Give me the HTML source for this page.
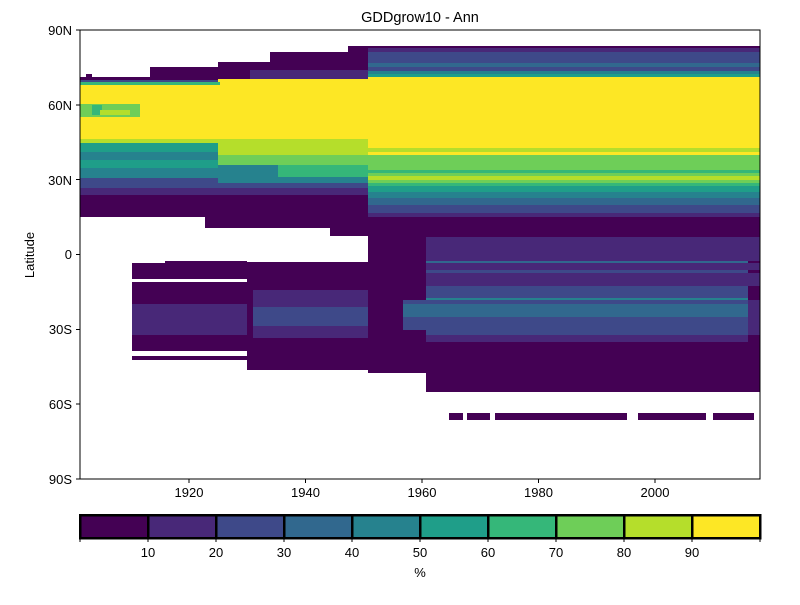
<!DOCTYPE html>
<html><head><meta charset="utf-8"><style>
body{margin:0;background:#fff;}
svg text{font-family:"Liberation Sans","DejaVu Sans",sans-serif;font-size:13px;fill:#000;}
</style></head><body>
<svg width="800" height="600" viewBox="0 0 800 600" xmlns="http://www.w3.org/2000/svg" shape-rendering="crispEdges">
<defs>
<clipPath id="c"><rect x="80" y="30" width="680" height="449"/></clipPath>
</defs>
<g clip-path="url(#c)">
<rect x="80" y="77" width="70" height="5" fill="#440154"/>
<rect x="86" y="74" width="6" height="4" fill="#440154"/>
<rect x="150" y="67" width="68" height="15" fill="#440154"/>
<rect x="218" y="62" width="52" height="20" fill="#440154"/>
<rect x="270" y="52" width="78" height="30" fill="#440154"/>
<rect x="348" y="46" width="20" height="36" fill="#440154"/>
<rect x="250" y="70" width="118" height="10" fill="#482878"/>
<rect x="80" y="80" width="150" height="4" fill="#3e4989"/>
<rect x="80" y="82" width="288" height="70" fill="#fde725"/>
<rect x="218" y="79" width="150" height="4" fill="#fde725"/>
<rect x="80" y="82" width="140" height="3" fill="#35b779"/>
<rect x="80" y="104" width="60" height="13" fill="#6ece58"/>
<rect x="92" y="105" width="10" height="10" fill="#35b779"/>
<rect x="100" y="110" width="30" height="5" fill="#b5de2b"/>
<rect x="80" y="139" width="300" height="13" fill="#b5de2b"/>
<rect x="80" y="143" width="138" height="10" fill="#1f9e89"/>
<rect x="80" y="152" width="138" height="26" fill="#26828e"/>
<rect x="80" y="160" width="138" height="8" fill="#1f9e89"/>
<rect x="218" y="152" width="150" height="3" fill="#b5de2b"/>
<rect x="218" y="155" width="150" height="10" fill="#6ece58"/>
<rect x="218" y="165" width="150" height="12" fill="#35b779"/>
<rect x="218" y="165" width="60" height="12" fill="#26828e"/>
<rect x="80" y="178" width="288" height="10" fill="#3e4989"/>
<rect x="218" y="177" width="150" height="6" fill="#26828e"/>
<rect x="80" y="188" width="288" height="8" fill="#482878"/>
<rect x="80" y="195" width="288" height="22" fill="#440154"/>
<rect x="205" y="217" width="163" height="11" fill="#440154"/>
<rect x="330" y="228" width="38" height="8" fill="#440154"/>
<rect x="368" y="46" width="392" height="3" fill="#440154"/>
<rect x="368" y="48" width="392" height="5" fill="#482878"/>
<rect x="368" y="52" width="392" height="11" fill="#3e4989"/>
<rect x="368" y="63" width="392" height="4" fill="#31688e"/>
<rect x="368" y="67" width="392" height="4" fill="#3e4989"/>
<rect x="368" y="71" width="392" height="3" fill="#26828e"/>
<rect x="368" y="74" width="392" height="3" fill="#1f9e89"/>
<rect x="368" y="77" width="392" height="71" fill="#fde725"/>
<rect x="368" y="148" width="392" height="4" fill="#b5de2b"/>
<rect x="368" y="152" width="392" height="3" fill="#fde725"/>
<rect x="368" y="155" width="392" height="15" fill="#6ece58"/>
<rect x="368" y="170" width="392" height="3" fill="#35b779"/>
<rect x="368" y="173" width="392" height="3" fill="#6ece58"/>
<rect x="368" y="176" width="392" height="4" fill="#b5de2b"/>
<rect x="368" y="180" width="392" height="3" fill="#6ece58"/>
<rect x="368" y="183" width="392" height="3" fill="#35b779"/>
<rect x="368" y="186" width="392" height="6" fill="#1f9e89"/>
<rect x="368" y="192" width="392" height="6" fill="#26828e"/>
<rect x="368" y="198" width="392" height="7" fill="#31688e"/>
<rect x="368" y="205" width="392" height="9" fill="#3e4989"/>
<rect x="368" y="213" width="392" height="4" fill="#482878"/>
<rect x="368" y="217" width="392" height="16" fill="#440154"/>
<!-- middle column dark base -->
<rect x="368" y="230" width="58" height="143" fill="#440154"/>
<rect x="426" y="230" width="334" height="162" fill="#440154"/>
<!-- tropics right -->
<rect x="426" y="237" width="334" height="24" fill="#482878"/>
<rect x="426" y="261" width="322" height="2" fill="#31688e"/>
<rect x="426" y="263" width="334" height="7" fill="#482878"/>
<rect x="426" y="270" width="322" height="3" fill="#3e4989"/>
<rect x="426" y="273" width="334" height="13" fill="#482878"/>
<rect x="426" y="286" width="322" height="12" fill="#3e4989"/>
<rect x="426" y="298" width="322" height="2" fill="#26828e"/>
<rect x="426" y="300" width="322" height="4" fill="#3e4989"/>
<rect x="426" y="304" width="322" height="13" fill="#31688e"/>
<rect x="426" y="317" width="322" height="18" fill="#3e4989"/>
<rect x="426" y="335" width="322" height="7" fill="#482878"/>
<rect x="748" y="300" width="12" height="35" fill="#482878"/>
<rect x="403" y="300" width="23" height="30" fill="#3e4989"/>
<rect x="403" y="304" width="23" height="13" fill="#31688e"/>
<rect x="247" y="262" width="121" height="28" fill="#440154"/>
<rect x="253" y="290" width="115" height="17" fill="#482878"/>
<rect x="253" y="307" width="115" height="19" fill="#3e4989"/>
<rect x="253" y="326" width="115" height="12" fill="#482878"/>
<rect x="247" y="338" width="121" height="32" fill="#440154"/>
<rect x="247" y="290" width="6" height="48" fill="#440154"/>
<rect x="132" y="263" width="115" height="16" fill="#440154"/>
<rect x="165" y="261" width="82" height="3" fill="#440154"/>
<rect x="132" y="282" width="115" height="22" fill="#440154"/>
<rect x="132" y="304" width="115" height="31" fill="#482878"/>
<rect x="132" y="335" width="115" height="16" fill="#440154"/>
<rect x="132" y="356" width="115" height="4" fill="#440154"/>
<rect x="449" y="413" width="14" height="7" fill="#440154"/>
<rect x="467" y="413" width="23" height="7" fill="#440154"/>
<rect x="495" y="413" width="132" height="7" fill="#440154"/>
<rect x="638" y="413" width="68" height="7" fill="#440154"/>
<rect x="713" y="413" width="41" height="7" fill="#440154"/>
</g>
<rect x="80" y="30" width="680" height="449" fill="none" stroke="#000" stroke-width="1" shape-rendering="auto"/>
<g stroke="#000" stroke-width="1">
<line x1="76" y1="30" x2="80" y2="30"/><line x1="76" y1="104.8" x2="80" y2="104.8"/><line x1="76" y1="179.7" x2="80" y2="179.7"/><line x1="76" y1="254.5" x2="80" y2="254.5"/><line x1="76" y1="329.3" x2="80" y2="329.3"/><line x1="76" y1="404.2" x2="80" y2="404.2"/><line x1="76" y1="479" x2="80" y2="479"/>
<line x1="189" y1="479" x2="189" y2="483"/><line x1="305.5" y1="479" x2="305.5" y2="483"/><line x1="422" y1="479" x2="422" y2="483"/><line x1="538.5" y1="479" x2="538.5" y2="483"/><line x1="655" y1="479" x2="655" y2="483"/>
</g>
<g text-anchor="end">
<text x="72" y="35">90N</text><text x="72" y="110">60N</text><text x="72" y="185">30N</text><text x="72" y="259">0</text><text x="72" y="334">30S</text><text x="72" y="409">60S</text><text x="72" y="484">90S</text>
</g>
<g text-anchor="middle">
<text x="189" y="497">1920</text><text x="305.5" y="497">1940</text><text x="422" y="497">1960</text><text x="538.5" y="497">1980</text><text x="655" y="497">2000</text>
<text x="420" y="22" style="font-size:14.5px">GDDgrow10 - Ann</text>
<text x="34" y="255" transform="rotate(-90 34 255)">Latitude</text>
</g>
<g>
<rect x="80" y="515" width="68" height="23" fill="#440154"/>
<rect x="148" y="515" width="68" height="23" fill="#482878"/>
<rect x="216" y="515" width="68" height="23" fill="#3e4989"/>
<rect x="284" y="515" width="68" height="23" fill="#31688e"/>
<rect x="352" y="515" width="68" height="23" fill="#26828e"/>
<rect x="420" y="515" width="68" height="23" fill="#1f9e89"/>
<rect x="488" y="515" width="68" height="23" fill="#35b779"/>
<rect x="556" y="515" width="68" height="23" fill="#6ece58"/>
<rect x="624" y="515" width="68" height="23" fill="#b5de2b"/>
<rect x="692" y="515" width="68" height="23" fill="#fde725"/>
</g>
<g stroke="#000" stroke-width="2.5" fill="none">
<rect x="80" y="515" width="680" height="23"/>
<line x1="148" y1="515" x2="148" y2="538"/><line x1="216" y1="515" x2="216" y2="538"/><line x1="284" y1="515" x2="284" y2="538"/><line x1="352" y1="515" x2="352" y2="538"/><line x1="420" y1="515" x2="420" y2="538"/><line x1="488" y1="515" x2="488" y2="538"/><line x1="556" y1="515" x2="556" y2="538"/><line x1="624" y1="515" x2="624" y2="538"/><line x1="692" y1="515" x2="692" y2="538"/>
</g>
<g stroke="#000" stroke-width="1">
<line x1="80" y1="538" x2="80" y2="542"/><line x1="148" y1="538" x2="148" y2="542"/><line x1="216" y1="538" x2="216" y2="542"/><line x1="284" y1="538" x2="284" y2="542"/><line x1="352" y1="538" x2="352" y2="542"/><line x1="420" y1="538" x2="420" y2="542"/><line x1="488" y1="538" x2="488" y2="542"/><line x1="556" y1="538" x2="556" y2="542"/><line x1="624" y1="538" x2="624" y2="542"/><line x1="692" y1="538" x2="692" y2="542"/><line x1="760" y1="538" x2="760" y2="542"/>
</g>
<g text-anchor="middle">
<text x="148" y="557">10</text><text x="216" y="557">20</text><text x="284" y="557">30</text><text x="352" y="557">40</text><text x="420" y="557">50</text><text x="488" y="557">60</text><text x="556" y="557">70</text><text x="624" y="557">80</text><text x="692" y="557">90</text>
<text x="420" y="577">%</text>
</g>
</svg>
</body></html>
